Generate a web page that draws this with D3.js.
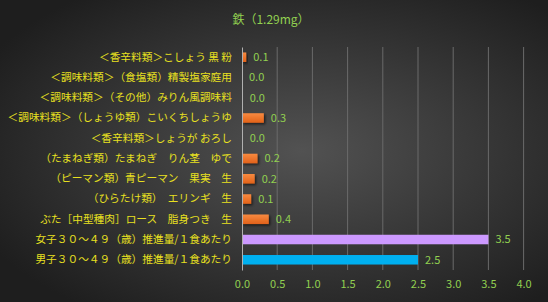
<!DOCTYPE html>
<html>
<head>
<meta charset="utf-8">
<title>鉄</title>
<script src="https://cdn.jsdelivr.net/npm/d3@7/dist/d3.min.js"></script>
<style>
  html, body { margin: 0; padding: 0; background: #2a2a2a; }
  svg { display: block; }
  text { font-family: "Noto Sans CJK JP", "Noto Sans", sans-serif; }
</style>
</head>
<body>
<svg id="mainsvg" width="548" height="302"></svg>
<script>
// data, top row first
const categories = [
  "＜香辛料類＞こしょう 黒 粉",
  "＜調味料類＞（食塩類）精製塩家庭用",
  "＜調味料類＞（その他）みりん風調味料",
  "＜調味料類＞（しょうゆ類）こいくちしょうゆ",
  "＜香辛料類＞しょうが おろし",
  "（たまねぎ類）たまねぎ　りん茎　ゆで",
  "（ピーマン類）青ピーマン　果実　生",
  "（ひらたけ類）　エリンギ　生",
  "ぶた［中型種肉］ロース　脂身つき　生",
  "女子３０～４９（歳）推進量/１食あたり",
  "男子３０～４９（歳）推進量/１食あたり"
];
const values = [0.06, 0.00, 0.01, 0.31, 0.01, 0.22, 0.18, 0.13, 0.38, 3.5, 2.5];
const xTicks = [0, 0.5, 1.0, 1.5, 2.0, 2.5, 3.0, 3.5, 4.0];
const title = "鉄（1.29mg）";

const orange = "#f07428", purple = "#cc99ff", blue = "#00b0f0";
const barColor = (d, i) => i === 9 ? purple : (i === 10 ? blue : orange);

const svg = d3.select('#mainsvg');
const width = +svg.attr('width');
const height = +svg.attr('height');
const margin = {top: 47, right: 24, bottom: 32, left: 242};
const innerWidth = 4.0 * 70.4;
const innerHeight = height - margin.top - margin.bottom;

// background
const defs = svg.append('defs');
const bg = defs.append('radialGradient').attr('id', 'bg')
  .attr('cx', '55%').attr('cy', '50%').attr('r', '65%');
bg.append('stop').attr('offset', '0%').attr('stop-color', '#525252');
bg.append('stop').attr('offset', '100%').attr('stop-color', '#1e1e1e');
const og = defs.append('linearGradient').attr('id', 'og')
  .attr('x1', 0).attr('y1', 0).attr('x2', 0).attr('y2', 1);
og.append('stop').attr('offset', '0%').attr('stop-color', '#f88a40');
og.append('stop').attr('offset', '100%').attr('stop-color', '#e2621a');
const sh = defs.append('filter').attr('id', 'shadow')
  .attr('x', '-20%').attr('y', '-30%').attr('width', '160%').attr('height', '180%');
sh.append('feDropShadow').attr('dx', 1.5).attr('dy', 1.5).attr('stdDeviation', 1)
  .attr('flood-color', '#000').attr('flood-opacity', 0.6);

svg.append('rect').attr('width', width).attr('height', height).attr('fill', 'url(#bg)');

svg.append('text').attr('x', 271).attr('y', 24).attr('text-anchor', 'middle')
  .attr('font-size', 12).attr('fill', '#92d050').text(title);

const g = svg.append('g').attr('transform', `translate(${margin.left}, ${margin.top})`);

const xScale = d3.scaleLinear().domain([0, 4]).range([0, innerWidth]);
const yScale = d3.scaleBand().domain(categories).range([0, innerHeight])
  .paddingInner(0.53).paddingOuter(0.27);

// gridlines
g.selectAll('line.grid').data(xTicks.slice(1)).join('line')
  .attr('class', 'grid')
  .attr('x1', d => xScale(d)).attr('x2', d => xScale(d))
  .attr('y1', 0).attr('y2', innerHeight)
  .attr('stroke', '#6a6a6a').attr('stroke-width', 1);

// bars
g.selectAll('rect.bar').data(values).join('rect')
  .attr('class', 'bar')
  .attr('x', 0)
  .attr('y', (d, i) => yScale(categories[i]))
  .attr('width', d => xScale(d))
  .attr('height', yScale.bandwidth())
  .attr('fill', (d, i) => barColor(d, i) === orange ? 'url(#og)' : barColor(d, i))
  .attr('filter', (d, i) => barColor(d, i) === orange ? 'url(#shadow)' : null);

// value labels
g.selectAll('text.val').data(values).join('text')
  .attr('class', 'val')
  .attr('x', d => xScale(d) + 7)
  .attr('y', (d, i) => yScale(categories[i]) + yScale.bandwidth() / 2)
  .attr('dy', '0.35em')
  .attr('font-size', 11).attr('fill', '#92d050')
  .text(d => d3.format('.1f')(d));

// axes
const xAxis = d3.axisBottom(xScale).tickValues(xTicks).tickFormat(d3.format('.1f')).tickSize(0).tickPadding(10);
const xg = g.append('g').attr('transform', `translate(0, ${innerHeight})`).call(xAxis);
xg.select('.domain').remove();
xg.selectAll('text').attr('font-size', 11).attr('fill', '#92d050')
  .attr('font-family', '"Noto Sans CJK JP", sans-serif');

const yAxis = d3.axisLeft(yScale).tickSize(0).tickPadding(10);
const yg = g.append('g').call(yAxis);
yg.select('.domain').attr('stroke', '#b0b0b0');
yg.selectAll('text').attr('font-size', 10.7).attr('fill', '#e8e020')
  .attr('font-family', '"Noto Sans CJK JP", sans-serif');
</script>
</body>
</html>
